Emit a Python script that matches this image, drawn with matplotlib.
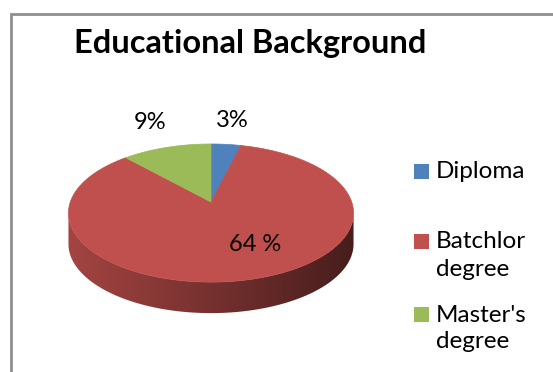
import numpy as np
import matplotlib
matplotlib.use("Agg")
import matplotlib.pyplot as plt
from matplotlib.patches import Polygon, Rectangle
from matplotlib.colors import to_rgb

plt.rcParams["font.family"] = ["Lato", "DejaVu Sans"]

# data
categories = ["Diploma", "Batchlor\ndegree", "Master's\ndegree"]
values = [3, 64, 9]
value_labels = ["3%", "64 %", "9%"]
colors = ["#4F81BD", "#C0504D", "#9BBB59"]

# layout of the 3d pie (pixels)
W, H = 553, 372
cx, cy = 211, 202          # apex of the pie on screen
A, B = 140.7, 67.3         # horizontal / vertical radius factors
k = 0.16                   # perspective strength
depth = 31                 # thickness of the pie
label_r = [1.52, 0.64, 1.55]
label_nudge = [0, -12, 1]  # degrees

def project(u, v):
    w = 1 + k * v
    return cx + A * u / w, cy - B * v / w

def rim(t0, t1, n=120):
    t = np.radians(np.linspace(t0, t1, n))
    return project(np.sin(t), np.cos(t))

fig = plt.figure(figsize=(W / 100, H / 100), dpi=100)
ax = fig.add_axes([0, 0, 1, 1])
ax.set_xlim(0, W)
ax.set_ylim(H, 0)
ax.axis("off")

# chart frame
ax.plot([11, 11, W], [H, 14, 14], color="#8E8E8E", lw=2, solid_joinstyle="miter")

fracs = np.array(values, dtype=float) / sum(values)
edges = np.concatenate([[0], np.cumsum(fracs) * 360])

# visible front side: between the outline extremes
t_right = np.degrees(np.arccos(-k))
t_left = 360 - t_right

grad = np.linspace(0.86, 0.36, 256)[None, :]
for i, c in enumerate(colors):
    a0 = max(edges[i], t_right)
    a1 = min(edges[i + 1], t_left)
    if a1 <= a0:
        continue
    xs, ys = rim(a0, a1)
    px = np.concatenate([xs, xs[::-1]])
    py = np.concatenate([ys, ys[::-1] + depth])
    poly = Polygon(np.column_stack([px, py]), closed=True, facecolor="none", edgecolor="none")
    ax.add_patch(poly)
    rgb = np.array(to_rgb(c))
    img = grad[..., None] * rgb[None, None, :]
    xl, xr = project(-1 / np.sqrt(1 - k * k), -k)[0], project(1 / np.sqrt(1 - k * k), -k)[0]
    im = ax.imshow(img, extent=[xl, xr, py.max() + 2, py.min() - 2], aspect="auto",
                   interpolation="bilinear", zorder=1)
    im.set_clip_path(poly)

# top surface
for i, c in enumerate(colors):
    xs, ys = rim(edges[i], edges[i + 1])
    pts = np.column_stack([np.concatenate([[cx], xs]), np.concatenate([[cy], ys])])
    ax.add_patch(Polygon(pts, closed=True, facecolor=c, edgecolor=c, lw=0.5, zorder=2))

# data labels
for i, lab in enumerate(value_labels):
    mid = np.radians((edges[i] + edges[i + 1]) / 2 + label_nudge[i])
    lx, ly = project(label_r[i] * np.sin(mid), label_r[i] * np.cos(mid))
    ax.text(lx, ly, lab, fontsize=17, ha="center", va="center", color="black", zorder=3)

ax.text(250, 53, "Educational Background", fontsize=23.5, fontweight="bold",
        ha="center", va="baseline")

# legend
leg_y = [171, 241, 314]
for y, c, name in zip(leg_y, colors, categories):
    ax.add_patch(Rectangle((414, y - 7.5), 15, 15, facecolor=c, edgecolor="none"))
    for j, line in enumerate(name.split("\n")):
        ax.text(436, y + 1 + j * 27, line, fontsize=17.5, ha="left", va="center")

fig.savefig("out.png", dpi=100)
